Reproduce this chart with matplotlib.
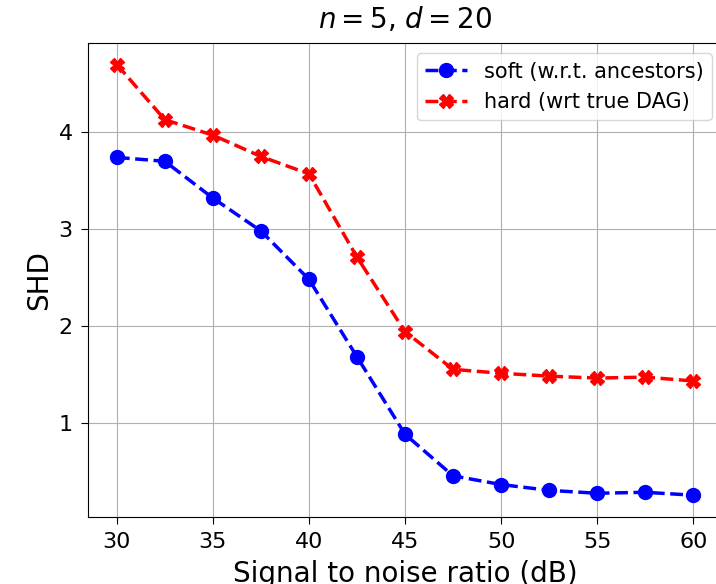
import matplotlib
matplotlib.use("Agg")
import matplotlib.pyplot as plt

# SNR values (dB)
snr = [30, 32.5, 35, 37.5, 40, 42.5, 45, 47.5, 50, 52.5, 55, 57.5, 60]

# SHD values
shd_soft = [3.74, 3.70, 3.32, 2.98, 2.48, 1.68, 0.88, 0.45, 0.36, 0.30, 0.27, 0.28, 0.25]
shd_hard = [4.70, 4.13, 3.97, 3.75, 3.57, 2.71, 1.94, 1.55, 1.51, 1.48, 1.46, 1.47, 1.43]

fig = plt.figure(figsize=(7.16, 5.84), dpi=100)
ax = fig.add_axes([0.1229, 0.1152, 0.8855, 0.8112])

ax.plot(snr, shd_soft, "o--", color="blue", linewidth=2.5, markersize=10,
        label="soft (w.r.t. ancestors)")
ax.plot(snr, shd_hard, "X--", color="red", linewidth=2.5, markersize=10,
        label="hard (wrt true DAG)")

ax.set_title("$n=5$, $d=20$", fontsize=20, pad=11)
ax.set_xlabel("Signal to noise ratio (dB)", fontsize=20, labelpad=6)
ax.set_ylabel("SHD", fontsize=20)
ax.tick_params(labelsize=16, length=5, pad=6)
ax.set_yticks([1, 2, 3, 4])
ax.grid(True)
ax.legend(fontsize=15, loc="upper right")

fig.savefig("out.png", dpi=100)
